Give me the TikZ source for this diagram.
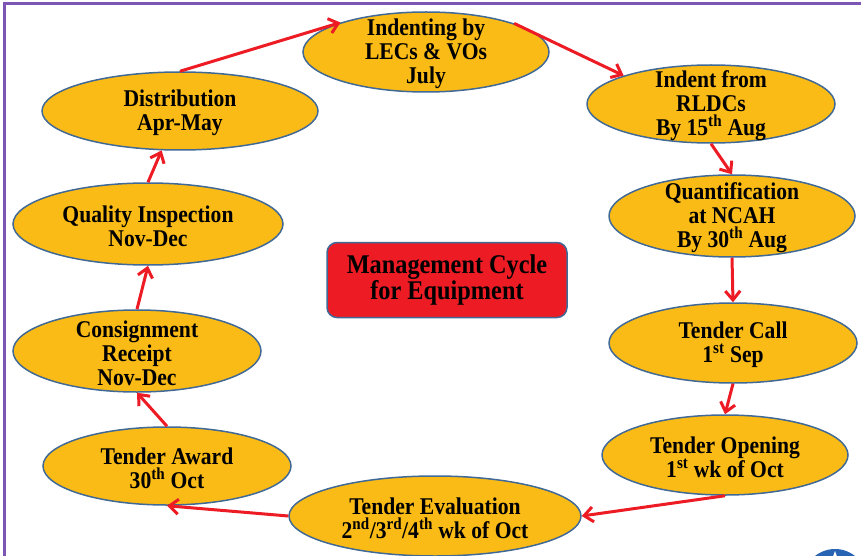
\documentclass[tikz,border=0pt]{standalone}
\usepackage{fontspec}
\setmainfont{Liberation Serif}[FakeStretch=0.9]
\usetikzlibrary{shapes.geometric,arrows.meta}

\definecolor{stagefill}{RGB}{250,187,22}
\definecolor{stageline}{RGB}{65,105,150}
\definecolor{cyclered}{RGB}{237,28,36}
\definecolor{framepurple}{RGB}{125,85,180}
\definecolor{logoblue}{RGB}{40,100,180}

\tikzset{
  stage/.style={ellipse, draw=stageline, line width=1.5pt, fill=stagefill, inner sep=0pt},
  stagetext/.style={align=center, inner sep=0pt, yshift=-2pt, font=\bfseries\fontsize{24}{24}\selectfont},
  flow/.style={draw=cyclered, line width=3pt, -{Straight Barb[length=9pt,width=15pt]}},
}

\begin{document}
\begin{tikzpicture}[x=1pt,y=-1pt]
    \useasboundingbox (0,0) rectangle (861,556);
    % frame and logo
    \draw[framepurple, line width=3pt] (4,556) -- (4,4) -- (861,4);
    \begin{scope}
        \clip (0,0) rectangle (861,556);
        \fill[logoblue] (835,581) circle [radius=32];
        \fill[white] (835,551) -- (839,562) -- (831,562) -- cycle;
    \end{scope}

    % stages of the cycle
    \node[stage, minimum width=246, minimum height=80,
          label={[name=indent-t, stagetext]center:{Indenting by\\LECs \& VOs\\July}}] (indent) at (426,52) {};
    \node[stage, minimum width=248, minimum height=78,
          label={[name=rldc-t, stagetext]center:{Indent from\\RLDCs\\By 15\textsuperscript{th} Aug}}] (rldc) at (711,104) {};
    \node[stage, minimum width=246, minimum height=82,
          label={[name=quant-t, stagetext]center:{Quantification\\at NCAH\\By 30\textsuperscript{th} Aug}}] (quant) at (732,216) {};
    \node[stage, minimum width=248, minimum height=80,
          label={[name=call-t, stagetext]center:{Tender Call\\1\textsuperscript{st} Sep}}] (call) at (733,343) {};
    \node[stage, minimum width=246, minimum height=80,
          label={[name=open-t, stagetext]center:{Tender Opening\\1\textsuperscript{st} wk of Oct}}] (open) at (725,455) {};
    \node[stage, minimum width=292, minimum height=80,
          label={[name=eval-t, stagetext]center:{Tender Evaluation\\2\textsuperscript{nd}/3\textsuperscript{rd}/4\textsuperscript{th} wk of Oct}}] (eval) at (435,516) {};
    \node[stage, minimum width=248, minimum height=78,
          label={[name=award-t, stagetext]center:{Tender Award\\30\textsuperscript{th} Oct}}] (award) at (167,466) {};
    \node[stage, minimum width=248, minimum height=82,
          label={[name=consign-t, stagetext]center:{Consignment\\Receipt\\Nov-Dec}}] (consign) at (137,351) {};
    \node[stage, minimum width=270, minimum height=82,
          label={[name=quality-t, stagetext]center:{Quality Inspection\\Nov-Dec}}] (quality) at (148,224) {};
    \node[stage, minimum width=276, minimum height=78,
          label={[name=dist-t, stagetext]center:{Distribution\\Apr-May}}] (dist) at (180,111) {};

    % title in the middle
    \node[draw=stageline, line width=1.5pt, fill=cyclered, rounded corners=10pt,
          minimum width=240, minimum height=75, align=center,
          font=\bfseries\fontsize{27}{26}\selectfont] (title) at (447,280) {Management Cycle\\for Equipment};

    % cycle arrows
    \draw[flow] (dist.north) -- (indent.161);
    \draw[flow] (indent.18) -- (rldc.162);
    \draw[flow] (rldc.south) -- (quant.north);
    \draw[flow] (quant.south) -- (call.north);
    \draw[flow] (call.south) -- (open.north);
    \draw[flow] (open.south) -- (eval.east);
    \draw[flow] (eval.west) -- (award.south);
    \draw[flow] (award.north) -- (consign.south);
    \draw[flow] (consign.north) -- (quality.south);
    \draw[flow] (quality.north) -- (dist.245);
\end{tikzpicture}
\end{document}
